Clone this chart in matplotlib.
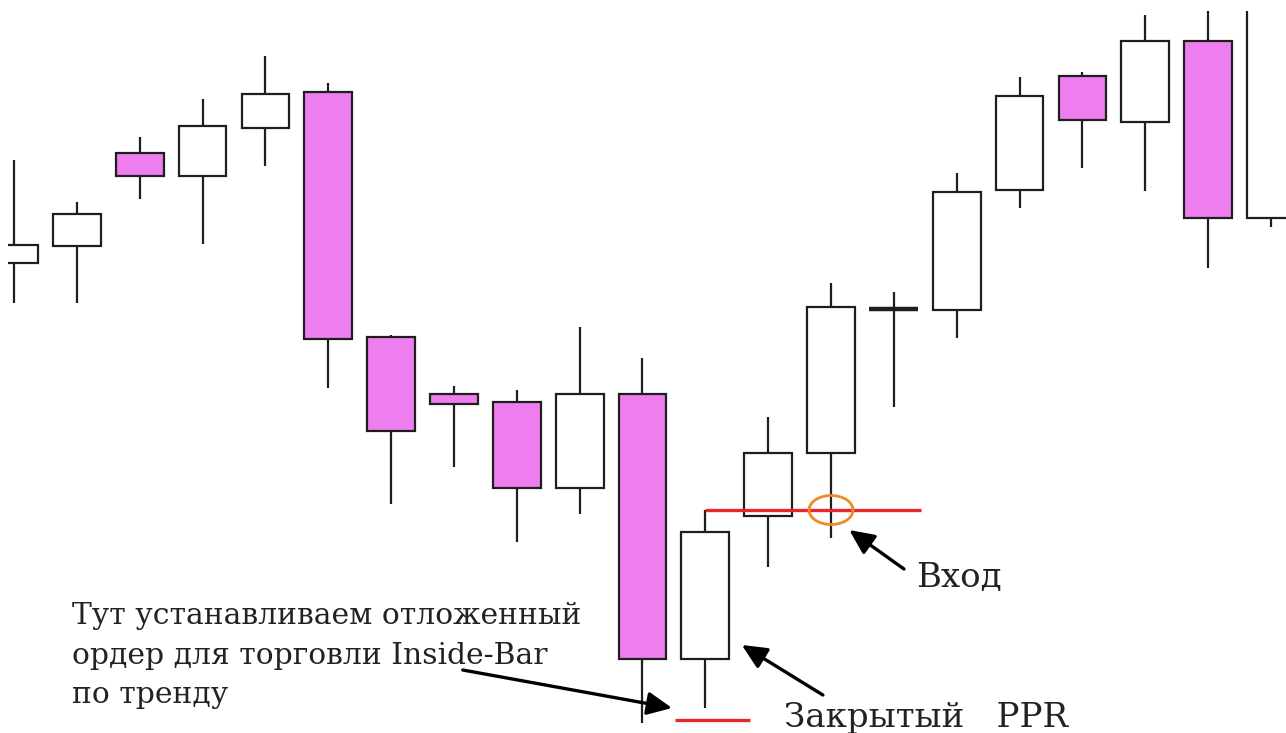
import matplotlib
matplotlib.use("Agg")
import matplotlib.pyplot as plt
from matplotlib.patches import Ellipse
import numpy as np

# ---- data (price units) ----
opens  = [470, 487, 580, 557, 605, 641, 396, 339, 331, 245, 339,  74, 217, 280, 424, 423, 543, 657, 611, 692, 515]
highs  = [573, 531, 596, 634, 677, 650, 398, 347, 343, 406, 375, 223, 316, 450, 441, 560, 656, 661, 718, 740, 770]
lows   = [430, 430, 534, 489, 567, 345, 229, 266, 191, 219,  10,  25, 166, 195, 326, 395, 525, 565, 542, 465, 506]
closes = [488, 519, 557, 607, 639, 394, 302, 329, 245, 339,  74, 201, 280, 426, 424, 541, 637, 613, 692, 515, 755]

entry_level = 223        # breakout level (high of the inside bar)
stop_level = 13          # pending order level below the mother bar
entry_span = (11, 14.43)
stop_span = (10.52, 11.71)
entry_idx = 13

label_left = ["Тут устанавливаем отложенный",
              "ордер для торговли Inside-Bar",
              "по тренду"]
label_entry = "Вход"
label_ppr = "Закрытый   PPR"

# ---- figure ----
W, H = 1286, 733
fig = plt.figure(figsize=(W / 100, H / 100), dpi=100)
fig.patch.set_facecolor("white")
ax = fig.add_axes([8 / W, 0, (W - 8) / W, 722 / H])
ax.set_axis_off()
step = 62.85
ax.set_xlim((8 - 14) / step, (W - 14) / step)
ax.set_ylim(0, 722)

pink = "#EE7DEE"
edge = "#1e1e1e"
body_w = 0.76

x = np.arange(len(opens))
for i in x:
    o, h, l, c = opens[i], highs[i], lows[i], closes[i]
    ax.vlines(i, l, h, color=edge, lw=1.6, zorder=1)
    if o == c:
        ax.hlines(o, i - body_w / 2 * 1.05, i + body_w / 2, color=edge, lw=3.2, zorder=2)
        continue
    bull = c > o
    ax.bar(i, abs(c - o), bottom=min(o, c), width=body_w,
           color="white" if bull else pink, edgecolor=edge, lw=1.6, zorder=2)

# red levels
red = "#E5282B"
ax.hlines(entry_level, entry_span[0], entry_span[1], color=red, lw=2.4, zorder=4)
ax.hlines(stop_level, stop_span[0], stop_span[1], color=red, lw=2.4, zorder=4)

# orange entry ellipse
ax.add_patch(Ellipse((entry_idx, entry_level), 0.70, 29, fill=False,
                     edgecolor="#F08A24", lw=2.0, zorder=5))

# arrows
arrow_kw = dict(arrowstyle="-|>,head_length=0.75,head_width=0.35", color="black",
                lw=2.4, shrinkA=0, shrinkB=0, mutation_scale=20)
ax.annotate("", xy=(13.29, 203), xytext=(14.16, 164), arrowprops=arrow_kw, zorder=6)
ax.annotate("", xy=(11.58, 88), xytext=(12.87, 38), arrowprops=arrow_kw, zorder=6)
ax.annotate("", xy=(10.47, 25), xytext=(7.14, 63), arrowprops=arrow_kw, zorder=6)

# texts
font = "DejaVu Serif"
for k, (line, base) in enumerate(zip(label_left, [624, 664, 703])):
    fig.text(72 / W, 1 - base / H, line, fontsize=21.4, family=font,
             color="#222222", ha="left", va="baseline")
fig.text(916 / W, 1 - 587 / H, label_entry, fontsize=24.5, family=font,
         color="#222222", ha="left", va="baseline")
fig.text(784 / W, 1 - 727 / H, label_ppr, fontsize=24.5, family=font,
         color="#222222", ha="left", va="baseline")

fig.savefig("out.png", dpi=100, facecolor="white")
